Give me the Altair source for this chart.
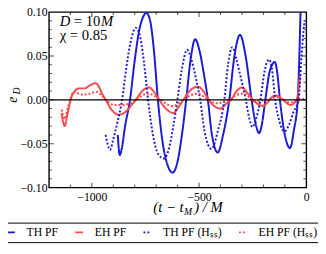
import altair as alt
import pandas as pd

# ---------------- data ----------------
series_names = ["TH PF", "EH PF", "TH PF (Hₛₛ)", "EH PF (Hₛₛ)"]

th_x = [-879, -870, -860, -845, -822, -800, -780, -762, -745, -728, -710, -692, -672, -650, -623,
        -600, -580, -560, -540, -518, -497, -478, -459, -440, -413, -388, -359, -335, -309, -283,
        -255, -238, -220, -205, -191, -170, -147, -135, -123, -100, -76, -58, -40, -27, -18]
th_y = [-0.040, -0.063, -0.055, -0.030, 0.0, 0.045, 0.078, 0.094, 0.099, 0.090, 0.055, 0.0, -0.045,
        -0.072, -0.083, -0.070, -0.040, 0.0, 0.045, 0.069, 0.055, 0.030, 0.0, -0.040, -0.060, -0.040,
        0.0, 0.050, 0.074, 0.050, 0.0, -0.025, -0.038, -0.025, 0.0, 0.033, 0.043, 0.030, 0.0, -0.040,
        -0.055, -0.035, 0.0, 0.100, 0.200]

thh_x = [-936, -927, -915, -900, -880, -859, -840, -820, -795, -778, -758, -738, -715, -690, -664,
         -640, -620, -601, -580, -556, -535, -515, -495, -475, -442, -412, -382, -365, -345, -325,
         -305, -282, -265, -250, -232, -214, -195, -174, -160, -145, -125, -101, -80, -60, -36, -22,
         -10, -5]
thh_y = [-0.040, -0.050, -0.057, -0.045, -0.025, 0.0, 0.035, 0.065, 0.082, 0.075, 0.045, 0.0, -0.040,
         -0.062, -0.067, -0.055, -0.030, 0.0, 0.035, 0.057, 0.045, 0.025, 0.0, -0.035, -0.056, -0.035,
         0.0, 0.040, 0.060, 0.045, 0.025, 0.0, -0.022, -0.031, -0.020, 0.0, 0.032, 0.046, 0.035, 0.0,
         -0.025, -0.036, -0.028, -0.014, 0.0, 0.050, 0.085, 0.090]

eh_x = [-1141, -1134, -1127, -1115, -1099, -1079, -1060, -1035, -1005, -982, -965, -950, -935, -912,
        -874, -840, -815, -795, -765, -733, -710, -686, -655, -620, -595, -573, -540, -505, -478,
        -455, -430, -400, -372, -350, -325, -300, -275, -250, -225, -200, -185, -170, -155, -141,
        -125, -107, -90, -73, -55, -42, -35, -30]
eh_y = [-0.015, -0.025, -0.030, -0.018, 0.0, 0.010, 0.013, 0.013, 0.017, 0.019, 0.014, 0.006, 0.0,
        -0.010, -0.017, -0.013, -0.006, 0.0, 0.010, 0.014, 0.009, 0.0, -0.010, -0.015, -0.008, 0.0,
        0.011, 0.015, 0.009, 0.0, -0.007, -0.010, -0.004, 0.0, 0.010, 0.014, 0.008, 0.0, -0.005,
        -0.007, -0.004, 0.0, 0.004, 0.005, 0.003, 0.0, -0.004, -0.006, -0.003, 0.003, 0.015, 0.027]

ehh_x = [-1141, -1134, -1127, -1115, -1101, -1086, -1070, -1049, -1025, -1000, -975, -955, -935,
         -915, -890, -860, -835, -812, -790, -765, -736, -705, -677, -650, -620, -595, -573, -540,
         -505, -480, -458, -435, -413, -385, -360, -330, -295, -270, -255, -240, -232, -210, -185,
         -160, -132, -110, -95, -77, -50, -25, -5]
ehh_y = [-0.011, -0.018, -0.022, -0.012, 0.0, 0.009, 0.008, 0.006, 0.006, 0.008, 0.009, 0.005, 0.0,
         -0.004, -0.006, -0.006, -0.005, -0.003, 0.0, 0.005, 0.007, 0.004, 0.0, -0.005, -0.007, -0.004,
         0.0, 0.005, 0.007, 0.004, 0.0, -0.003, -0.004, -0.002, 0.0, 0.005, 0.007, 0.004, 0.0, -0.002,
         -0.002, -0.001, 0.0, 0.002, 0.003, 0.0, -0.002, -0.003, -0.002, 0.0, 0.002]

x_major = [-1000, -500]
x_minor = [-1100, -900, -800, -700, -600, -400, -300, -200, -100]
y_major = [-0.05, 0.0, 0.05]
y_minor = [-0.09, -0.08, -0.07, -0.06, -0.04, -0.03, -0.02, -0.01,
           0.01, 0.02, 0.03, 0.04, 0.06, 0.07, 0.08, 0.09]

x_label_values = [-1000, -500, 0]
y_label_values = [-0.10, -0.05, 0.0, 0.05, 0.10]

# ---------------- build tables ----------------
rows = []
for name, xs, ys in [(series_names[0], th_x, th_y), (series_names[1], eh_x, eh_y),
                     (series_names[2], thh_x, thh_y), (series_names[3], ehh_x, ehh_y)]:
    for i, (a, b) in enumerate(zip(xs, ys)):
        rows.append({"series": name, "x": a, "y": b, "i": i})
df = pd.DataFrame(rows)

xt = pd.DataFrame({"x": x_major + x_minor,
                   "len": [10] * len(x_major) + [6] * len(x_minor)})
yt = pd.DataFrame({"y": y_major + y_minor,
                   "len": [10] * len(y_major) + [6] * len(y_minor)})
one = pd.DataFrame({"a": [0]})

W, H = 264, 180
FONT = "Liberation Serif"
BLUE = "#1a1ad2"
RED = "#ff4848"

xscale = alt.Scale(domain=[-1200, 0], nice=False, zero=False)
yscale = alt.Scale(domain=[-0.10, 0.10], nice=False, zero=False)

xaxis = alt.Axis(values=x_label_values, format="d", title=None, ticks=False, tickSize=0,
                 domain=False, grid=False, labelPadding=4, labelFlush=False,
                 labelOverlap=False, labelFont=FONT, labelFontSize=12, labelColor="black")
yaxis = alt.Axis(values=y_label_values, format=".2f", title=None, ticks=False, tickSize=0,
                 domain=False, grid=False, labelPadding=2, labelFlush=False,
                 labelOverlap=False, labelFont=FONT, labelFontSize=12, labelColor="black")

lines = alt.Chart(df).mark_line(clip=True, strokeWidth=2, interpolate="monotone").encode(
    x=alt.X("x:Q", scale=xscale, axis=xaxis),
    y=alt.Y("y:Q", scale=yscale, axis=yaxis),
    color=alt.Color("series:N", title=None,
                    scale=alt.Scale(domain=series_names, range=[BLUE, RED, BLUE, RED])),
    strokeDash=alt.StrokeDash("series:N", title=None,
                              scale=alt.Scale(domain=series_names,
                                              range=[[1, 0], [1, 0], [2, 2], [2, 2]])),
    order="i:Q",
)

zero = alt.Chart(one).mark_rule(color="black", strokeWidth=1.3).encode(
    y=alt.datum(0, scale=yscale, axis=yaxis))

def xticks(ypos):
    return alt.Chart(xt).mark_tick(color="black", thickness=1, clip=True).encode(
        x=alt.X("x:Q", scale=xscale, axis=xaxis),
        y=alt.value(ypos),
        size=alt.Size("len:Q", scale=None, legend=None))

def yticks(xpos):
    return alt.Chart(yt).mark_tick(color="black", thickness=1, clip=True).encode(
        y=alt.Y("y:Q", scale=yscale, axis=yaxis),
        x=alt.value(xpos),
        size=alt.Size("len:Q", scale=None, legend=None))

def txt(s, x, y, size=15, style="normal", align="left", angle=0, baseline="alphabetic"):
    return alt.Chart(one).mark_text(font=FONT, fontSize=size, fontStyle=style, align=align,
                                    baseline=baseline, angle=angle, color="black").encode(
        x=alt.value(x), y=alt.value(y), text=alt.value(s))

annos = [
    txt("D", 11, 14, style="italic"),
    txt("= 10", 25.5, 14),
    txt("M", 53.5, 14, style="italic"),
    txt("χ = 0.85", 11, 29),
    # y title e_D
    txt("e", -37, 90, size=14, style="italic", align="center", angle=270, baseline="middle"),
    txt("D", -33, 81, size=10, style="italic", align="center", angle=270, baseline="middle"),
    # x title (t − t_M) / M
    txt("(t − t", 138, 205, size=15, style="italic", align="right"),
    txt("M", 138.5, 208, size=10, style="italic"),
    txt(") / M", 149, 205, size=15, style="italic"),
]

chart = alt.layer(
    lines, zero, xticks(0), xticks(H), yticks(0), yticks(W), *annos
).properties(
    width=W, height=H, autosize="none",
    padding={"left": 42, "top": 1, "right": 12, "bottom": 65},
).configure_view(
    stroke="black", strokeWidth=1.4
).configure_legend(
    orient="none", legendX=-49, legendY=216, direction="horizontal", columns=4,
    gridAlign="none", columnPadding=13, labelOffset=10, symbolType="stroke", symbolSize=64,
    symbolStrokeWidth=2, labelFont=FONT, labelFontSize=12, labelColor="black",
    strokeColor="black", strokeWidth=1, fillColor="white", padding=4, rowPadding=0,
    cornerRadius=0, symbolOffset=0
)

chart.save("out.html", embed_options={"renderer": "svg", "actions": False})
